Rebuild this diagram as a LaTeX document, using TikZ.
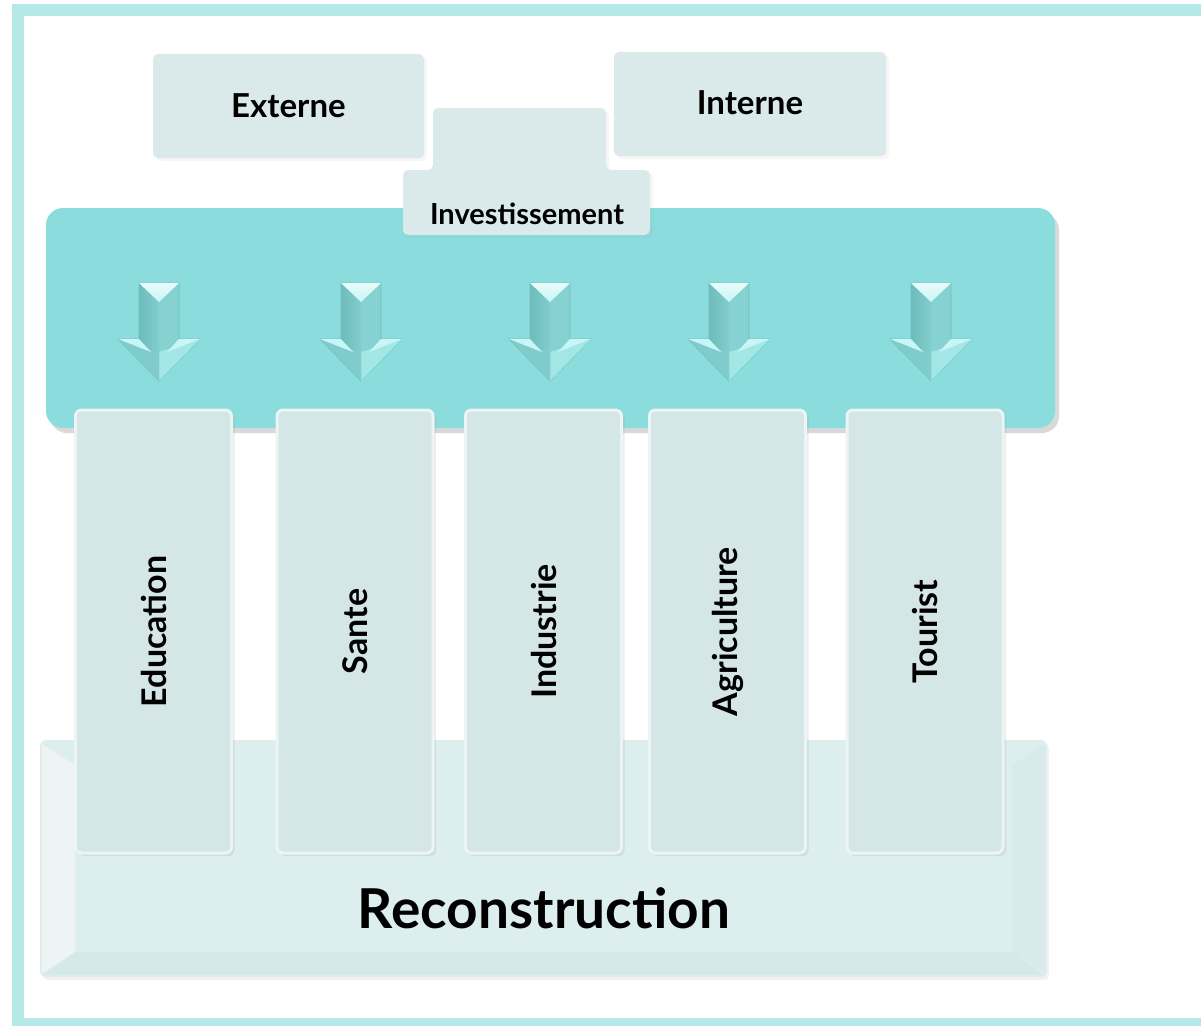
\documentclass[tikz,border=0pt]{standalone}
\usepackage{fontspec}
\usepackage{graphicx}
\setmainfont{Lato}
\usepackage{tikz}
\usetikzlibrary{shadows, positioning}

\definecolor{framecol}{HTML}{B6E8E7}
\definecolor{bandcol}{HTML}{8BDCDC}
\definecolor{boxcol}{HTML}{DAEAEA}
\definecolor{pillarcol}{HTML}{D5E6E7}
\definecolor{basecol}{HTML}{DDEEEE}
\definecolor{baseleft}{HTML}{EEF3F3}
\definecolor{baseright}{HTML}{D9EAEA}
\definecolor{basebottom}{HTML}{D7E8E8}
\definecolor{arrowmid}{HTML}{86D2D2}
\definecolor{arrowdark}{HTML}{5AA8A8}
\definecolor{arrowlight}{HTML}{C8F5F5}

\begin{document}
\begin{tikzpicture}[x=1pt, y=-1pt,
  labeltext/.style={font=\bfseries\fontsize{33}{38}\selectfont, text=black},
  topbox/.style={fill=boxcol, rounded corners=5pt, minimum width=271, minimum height=104, labeltext, drop shadow={shadow xshift=3pt, shadow yshift=-3pt, opacity=0.07}},
  pillar/.style={fill=pillarcol, draw=white!55!pillarcol, line width=3pt, rounded corners=6pt, minimum width=156, minimum height=443, labeltext, font=\bfseries\fontsize{34}{38}\selectfont, drop shadow={shadow xshift=3pt, shadow yshift=-3pt, opacity=0.15}},
  bandbox/.style={fill=bandcol, rounded corners=17pt, drop shadow={shadow xshift=4pt, shadow yshift=-5pt, opacity=0.3}}]
    \useasboundingbox (0,0) rectangle (1201,1025);

    %Frame
    \draw[framecol, line width=12pt] (18,10) -- (1230,10);
    \draw[framecol, line width=12pt] (18,4) -- (18,1030);
    \draw[framecol, line width=12pt] (12,1024) -- (1230,1024);

    %Base
    \fill[basecol, rounded corners=6pt, drop shadow={shadow xshift=2pt, shadow yshift=-3pt, opacity=0.1}] (40,740) rectangle (1047,977);
    \fill[baseleft] (42,744) -- (75,765) -- (75,952) -- (42,973) -- cycle;
    \fill[baseright] (1045,744) -- (1045,973) -- (1012,952) -- (1012,765) -- cycle;
    \fill[basebottom] (44,975) -- (1043,975) -- (1012,952) -- (75,952) -- cycle;

    %Band
    \fill[bandbox] (46,208) rectangle (1055,428);

    %Arrows
    \foreach \cx in {159,361,550,729,931} {
        \fill[arrowmid, draw=arrowdark, draw opacity=0.5, line width=0.8pt] ({\cx-20},283) -- ({\cx+20},283) -- ({\cx+20},339) -- ({\cx+41},339) -- (\cx,381) -- ({\cx-41},339) -- ({\cx-20},339) -- cycle;
        \fill[bandcol!60!arrowlight] ({\cx+41},339) -- (\cx,381) -- (\cx,352) -- cycle;
        \shade[left color=arrowdark, right color=arrowmid!90!arrowdark] ({\cx-20},283) -- (\cx,302) -- (\cx,381) -- ({\cx-41},339) -- ({\cx-20},339) -- cycle;
        \fill[arrowmid!85!arrowdark] ({\cx-41},339) -- (\cx,381) -- (\cx,352) -- cycle;
        \shade[top color=white!60!arrowlight, bottom color=arrowlight] ({\cx-20},283) -- ({\cx+20},283) -- (\cx,302) -- cycle;
        \fill[arrowlight] ({\cx-41},339) -- ({\cx-20},339) -- ({\cx-8},352) -- cycle;
        \fill[arrowlight] ({\cx+20},339) -- ({\cx+41},339) -- ({\cx+8},352) -- cycle;
    }

    %Pillars
    \node[pillar] (education) at (153.5,631.5) {\rotatebox{90}{Education}};
    \node[pillar] (sante) at (355,631.5) {\rotatebox{90}{Sante}};
    \node[pillar] (industrie) at (543.5,631.5) {\rotatebox{90}{Industrie}};
    \node[pillar] (agriculture) at (727.5,631.5) {\rotatebox{90}{Agriculture}};
    \node[pillar] (tourist) at (925,631.5) {\rotatebox{90}{Tourist}};

    \node[labeltext, font=\bfseries\fontsize{55}{62}\selectfont] (reconstruction) at (544,908) {Reconstruction};

    %Top boxes
    \fill[boxcol, rounded corners=5pt, drop shadow={shadow xshift=3pt, shadow yshift=-3pt, opacity=0.07}] (433,108) -- (606,108) -- (606,170) -- (650,170) -- (650,235) -- (403,235) -- (403,170) -- (433,170) -- cycle;
    \node[labeltext, font=\bfseries\fontsize{29}{33}\selectfont] (invest) at (527,214) {Investissement};
    \node[topbox] (externe) at (288.5,106) {Externe};
    \node[topbox, minimum width=272] (interne) at (750,104) {\raisebox{3pt}{Interne}};

\end{tikzpicture}
\end{document}
